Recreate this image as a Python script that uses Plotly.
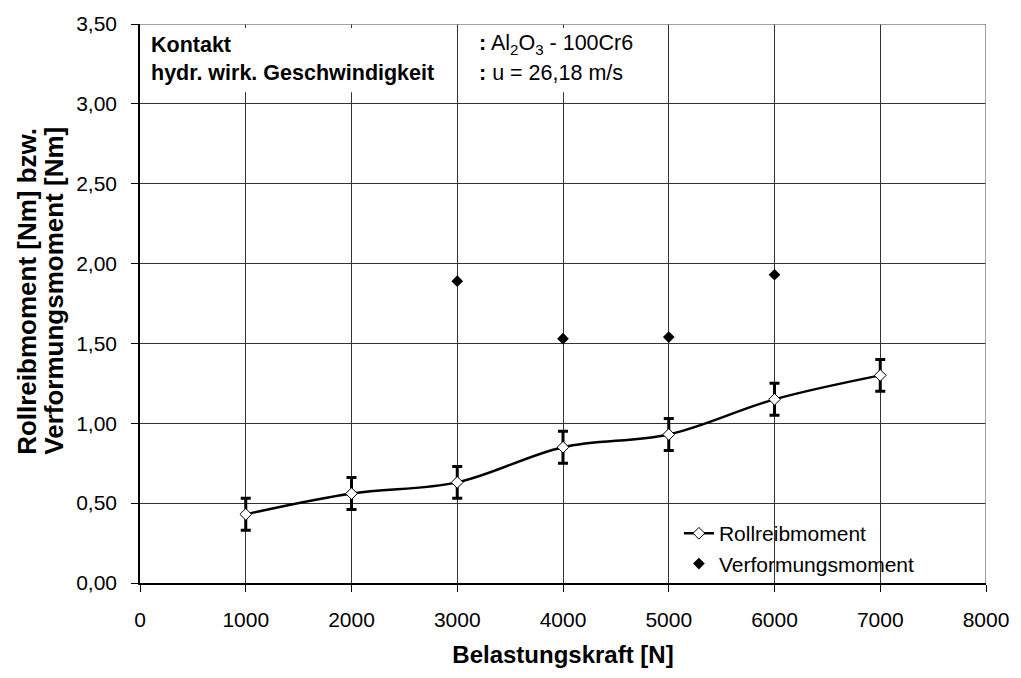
import plotly.graph_objects as go

# Belastungskraft [N]
kraft = [1000, 2000, 3000, 4000, 5000, 6000, 7000]
# Rollreibmoment [Nm] with symmetric error
rollreib = [0.43, 0.56, 0.63, 0.85, 0.93, 1.15, 1.30]
rollreib_err = [0.10, 0.10, 0.10, 0.10, 0.10, 0.10, 0.10]
# Verformungsmoment [Nm]
verf_kraft = [3000, 4000, 5000, 6000]
verformung = [1.89, 1.53, 1.54, 1.93]

x_ticks = [0, 1000, 2000, 3000, 4000, 5000, 6000, 7000, 8000]
y_ticks = [0.0, 0.5, 1.0, 1.5, 2.0, 2.5, 3.0, 3.5]

FONT = "Liberation Sans, Arial, sans-serif"

fig = go.Figure()

fig.add_trace(go.Scatter(
    x=kraft, y=rollreib, name="Rollreibmoment",
    mode="lines+markers",
    line=dict(color="black", width=2.5, shape="spline", smoothing=1.0),
    marker=dict(symbol="diamond", size=9, color="white",
                line=dict(color="black", width=1)),
    error_y=dict(type="data", array=rollreib_err, visible=True,
                 color="black", thickness=3, width=5),
))

fig.add_trace(go.Scatter(
    x=verf_kraft, y=verformung, name="Verformungsmoment",
    mode="markers",
    marker=dict(symbol="diamond", size=9, color="black",
                line=dict(color="black", width=0)),
))

# white info boxes in the upper left corner (the 3000 grid line stays visible)
for x0, x1 in [(0, 2975), (3025, 4800)]:
    fig.add_shape(type="rect", xref="x", yref="y", x0=x0, x1=x1,
                  y0=3.072, y1=3.475, fillcolor="white",
                  line=dict(width=0), layer="above")

# top and right border of the plot area
fig.add_shape(type="line", xref="x", yref="y", x0=0, x1=8000, y0=3.5, y1=3.5,
              line=dict(color="#808080", width=1.5), layer="above")
fig.add_shape(type="line", xref="x", yref="y", x0=8000, x1=8000, y0=0, y1=3.5,
              line=dict(color="#808080", width=1.5), layer="above")

info = [
    (3.37, "<b>Kontakt</b>", "<b>:</b> Al<sub>2</sub>O<sub>3</sub> - 100Cr6"),
    (3.195, "<b>hydr. wirk. Geschwindigkeit</b>", "<b>:</b> u = 26,18 m/s"),
]
for yv, left, right in info:
    fig.add_annotation(x=85, y=yv, xref="x", yref="y", text=left,
                       showarrow=False, xanchor="left", yanchor="middle",
                       font=dict(family=FONT, size=21.5, color="black"))
    fig.add_annotation(x=3190, y=yv, xref="x", yref="y", text=right,
                       showarrow=False, xanchor="left", yanchor="middle",
                       font=dict(family=FONT, size=21.5, color="black"))

# two-line y axis title, placed explicitly
y_title = ["<b>Rollreibmoment [Nm] bzw.</b>", "<b>Verformungsmoment [Nm]</b>"]
for xp, txt in zip([27, 54], y_title):
    fig.add_annotation(x=(xp - 140) / 851, y=0.522, xref="paper", yref="paper",
                       text=txt, textangle=-90, showarrow=False,
                       xanchor="center", yanchor="middle",
                       font=dict(family=FONT, size=26, color="black"))

fig.update_layout(
    width=1021, height=678,
    margin=dict(l=140, r=30, t=18, b=95),
    paper_bgcolor="white", plot_bgcolor="white",
    separators=", ",
    font=dict(family=FONT, size=21, color="black"),
    showlegend=True,
    legend=dict(x=0.637, y=0.125, xanchor="left", yanchor="top",
                bgcolor="rgba(0,0,0,0)", font=dict(size=21),
                tracegroupgap=0),
    xaxis=dict(
        range=[0, 8000], tickvals=x_ticks, tickformat="d",
        showgrid=True, gridcolor="#333333", gridwidth=1,
        showline=True, linecolor="black", linewidth=1.5,
        ticks="outside", ticklen=7, tickcolor="black",
        zeroline=False, ticklabelstandoff=10,
        title=dict(text="<b>Belastungskraft [N]</b>",
                   font=dict(size=24), standoff=16),
        tickfont=dict(size=21),
    ),
    yaxis=dict(
        range=[0, 3.5], tickvals=y_ticks, tickformat=".2f",
        showgrid=True, gridcolor="#333333", gridwidth=1,
        showline=True, linecolor="black", linewidth=1.5,
        ticks="outside", ticklen=7, tickcolor="black",
        zeroline=False, ticklabelstandoff=10,
        tickfont=dict(size=21),
    ),
)

fig.write_html("out.html")
